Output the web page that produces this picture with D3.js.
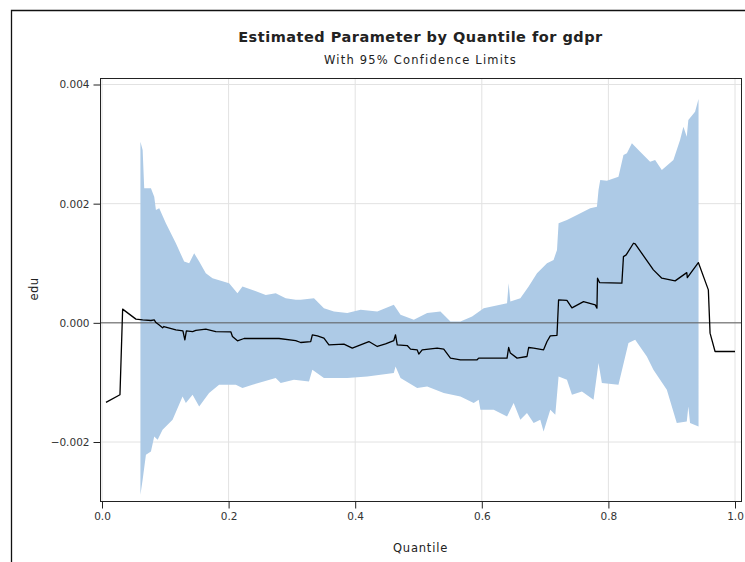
<!DOCTYPE html>
<html>
<head>
<meta charset="utf-8">
<script src="https://cdn.jsdelivr.net/npm/d3@7"></script>
<style>
  body { margin: 0; background: #fff; }
  text { font-family: "DejaVu Sans", sans-serif; fill: #222; }
  .axis path, .axis line { stroke: #222; }
  .axis text { font-size: 10.5px; fill: #333; }
</style>
</head>
<body>
<div id="plot"></div>
<script>
// estimate line: quantile and parameter
var lineQ = [0.0063,0.0284,0.0326,0.0536,0.0642,0.0773,0.0825,0.0852,0.0899,0.0957,0.0978,0.1167,0.1278,0.1309,0.1333,0.1431,0.1483,0.1640,0.1798,0.2035,
  0.2061,0.2140,0.2244,0.2797,0.3060,0.3139,0.3297,0.3323,0.3402,0.3506,0.3585,0.3822,0.3954,0.4216,0.4349,0.4479,0.4610,0.4637,0.4664,0.4822,
  0.4874,0.4979,0.5005,0.5058,0.5295,0.5399,0.5505,0.5662,0.5926,0.5951,0.6399,0.6424,0.6451,0.6557,0.6714,0.6740,0.6819,0.6976,0.7030,0.7082,
  0.7188,0.7213,0.7345,0.7424,0.7607,0.7792,0.7819,0.7828,0.7860,0.8213,0.8238,0.8281,0.8396,0.8423,0.8711,0.8844,0.9054,0.9238,0.9247,0.9421,
  0.9579,0.9606,0.9685,1.0];
var lineEst = [-0.001336,-0.001207,0.000230,0.000062,0.000050,0.000039,0.000050,0.000005,-0.000034,-0.000084,-0.000062,-0.000117,-0.000134,-0.000285,-0.000134,-0.000146,-0.000126,-0.000106,-0.000146,-0.000151,
  -0.000230,-0.000302,-0.000263,-0.000263,-0.000297,-0.000330,-0.000314,-0.000201,-0.000218,-0.000256,-0.000369,-0.000357,-0.000424,-0.000314,-0.000397,-0.000352,-0.000297,-0.000201,-0.000369,-0.000381,
  -0.000441,-0.000453,-0.000525,-0.000453,-0.000424,-0.000441,-0.000592,-0.000620,-0.000620,-0.000592,-0.000592,-0.000414,-0.000508,-0.000592,-0.000565,-0.000414,-0.000424,-0.000453,-0.000314,-0.000218,
  -0.000210,0.000386,0.000377,0.000251,0.000357,0.000302,0.000246,0.000749,0.000676,0.000666,0.001112,0.001140,0.001336,0.001324,0.000889,0.000749,0.000704,0.000843,0.000759,0.001011,
  0.000553,-0.000173,-0.000481,-0.000481];

// upper 95% limit
var upperQ = [0.0607,0.0642,0.0667,0.0773,0.0825,0.0852,0.0904,0.1009,0.1167,0.1298,0.1377,0.1456,0.1535,0.1640,0.1746,0.2008,0.2140,0.2219,0.2377,0.2587,
  0.2744,0.2902,0.3060,0.3139,0.3349,0.3506,0.3664,0.3875,0.4085,0.4349,0.4610,0.4716,0.4926,0.5137,0.5347,0.5505,0.5662,0.5847,0.6030,0.6399,
  0.6424,0.6451,0.6609,0.6740,0.6872,0.7030,0.7134,0.7188,0.7213,0.7345,0.7503,0.7713,0.7819,0.7844,0.7871,0.7976,0.8159,0.8238,0.8292,0.8371,
  0.8502,0.8659,0.8738,0.8844,0.9027,0.9132,0.9185,0.9238,0.9263,0.9369,0.9424];
var upperVal = [0.003039,0.002900,0.002258,0.002258,0.002117,0.001894,0.001923,0.001671,0.001336,0.001028,0.001001,0.001168,0.001028,0.000833,0.000749,0.000666,0.000498,0.000609,0.000553,0.000469,
  0.000498,0.000414,0.000386,0.000386,0.000414,0.000246,0.000189,0.000163,0.000218,0.000189,0.000302,0.000134,0.000050,0.000163,0.000189,0.000022,0.000022,0.000106,0.000246,0.000330,
  0.000666,0.000357,0.000414,0.000609,0.000833,0.001001,0.001056,0.001224,0.001671,0.001727,0.001811,0.001923,0.001950,0.002230,0.002397,0.002386,0.002453,0.002816,0.002845,0.003013,
  0.002872,0.002704,0.002733,0.002565,0.002733,0.003068,0.003291,0.003123,0.003403,0.003542,0.003755];

// lower 95% limit
var lowerQ = [0.0607,0.0642,0.0694,0.0773,0.0825,0.0879,0.0957,0.1115,0.1273,0.1325,0.1431,0.1535,0.1692,0.1850,0.2114,0.2219,0.2377,0.2744,0.2823,0.3033,
  0.3270,0.3323,0.3506,0.3875,0.4191,0.4610,0.4637,0.4716,0.4979,0.5137,0.5399,0.5662,0.5872,0.5951,0.5978,0.6188,0.6399,0.6503,0.6609,0.6714,
  0.6819,0.6924,0.6976,0.7082,0.7161,0.7213,0.7345,0.7424,0.7582,0.7765,0.7844,0.7897,0.8159,0.8317,0.8423,0.8607,0.8711,0.8923,0.9080,0.9238,
  0.9263,0.9290,0.9424];
var lowerVal = [-0.002884,-0.002632,-0.002213,-0.002158,-0.001906,-0.001961,-0.001794,-0.001626,-0.001236,-0.001346,-0.001207,-0.001403,-0.001179,-0.001039,-0.001039,-0.001095,-0.001039,-0.000927,-0.001011,-0.000956,
  -0.000984,-0.000788,-0.000927,-0.000927,-0.000900,-0.000843,-0.000733,-0.000927,-0.001095,-0.001068,-0.001179,-0.001236,-0.001346,-0.001291,-0.001459,-0.001459,-0.001571,-0.001346,-0.001626,-0.001514,
  -0.001681,-0.001626,-0.001822,-0.001459,-0.001542,-0.000900,-0.000956,-0.001207,-0.001152,-0.001291,-0.000676,-0.001011,-0.001039,-0.000340,-0.000285,-0.000565,-0.000788,-0.001123,-0.001681,-0.001655,
  -0.001403,-0.001681,-0.001738];

var xTicks = [0, 0.2, 0.4, 0.6, 0.8, 1.0];
var yTicks = [-0.002, 0, 0.002, 0.004];

var W = 745, H = 562;
var frame = {l: 100, r: 741, t: 78, b: 501};

var svg = d3.select('#plot').append('svg').attr('width', W).attr('height', H);

// outer border of the output window
svg.append('path').attr('d', 'M11.5,562 V10.5 H745').attr('fill', 'none').attr('stroke', '#111').attr('stroke-width', 1.3);

var x = d3.scaleLinear().domain([0, 1]).range([102, 735]);
var y = d3.scaleLinear().domain([-0.002, 0.004]).range([442, 84.5]);

// grid
svg.append('g').selectAll('line.gx').data(xTicks).enter().append('line')
  .attr('x1', function(d){ return x(d); }).attr('x2', function(d){ return x(d); })
  .attr('y1', frame.t).attr('y2', frame.b).attr('stroke', '#e2e2e2');
svg.append('g').selectAll('line.gy').data(yTicks).enter().append('line')
  .attr('x1', frame.l).attr('x2', frame.r)
  .attr('y1', function(d){ return y(d); }).attr('y2', function(d){ return y(d); }).attr('stroke', '#e2e2e2');

// confidence band: upper edge then lower edge backwards
var bandPts = upperQ.map(function(q, i){ return [q, upperVal[i]]; })
  .concat(lowerQ.map(function(q, i){ return [q, lowerVal[i]]; }).reverse());
var bandLine = d3.line().x(function(d){ return x(d[0]); }).y(function(d){ return y(d[1]); });
svg.append('path').datum(bandPts).attr('d', function(d){ return bandLine(d) + 'Z'; })
  .attr('fill', '#adcae6').attr('stroke', 'none');

// reference line at zero
svg.append('line').attr('x1', frame.l).attr('x2', frame.r).attr('y1', y(0)).attr('y2', y(0))
  .attr('stroke', '#5a5a5a').attr('stroke-width', 1);

// estimate
var estPts = lineQ.map(function(q, i){ return [q, lineEst[i]]; });
svg.append('path').datum(estPts).attr('d', bandLine)
  .attr('fill', 'none').attr('stroke', '#000').attr('stroke-width', 1.3).attr('stroke-linejoin', 'round');

// frame
svg.append('rect').attr('x', frame.l + 0.5).attr('y', frame.t + 0.5)
  .attr('width', frame.r - frame.l).attr('height', frame.b - frame.t)
  .attr('fill', 'none').attr('stroke', '#222');

// axes
var axisX = d3.axisBottom(x).tickValues(xTicks).tickSize(7).tickPadding(4).tickFormat(d3.format('.1f'));
var axisY = d3.axisLeft(y).tickValues(yTicks).tickSize(7).tickPadding(4).tickFormat(d3.format('.3f'));
svg.append('g').attr('class', 'axis').attr('transform', 'translate(0,' + (frame.b + 0.5) + ')').call(axisX)
  .select('.domain').remove();
svg.append('g').attr('class', 'axis').attr('transform', 'translate(' + (frame.l + 0.5) + ',0)').call(axisY)
  .select('.domain').remove();

// titles
svg.append('text').attr('x', 420.5).attr('y', 42).attr('text-anchor', 'middle')
  .style('font-size', '14.5px').style('font-weight', 'bold').style('letter-spacing', '0.5px')
  .text('Estimated Parameter by Quantile for gdpr');
svg.append('text').attr('x', 420.5).attr('y', 64).attr('text-anchor', 'middle')
  .style('font-size', '11.5px').style('letter-spacing', '1.2px').text('With 95% Confidence Limits');
svg.append('text').attr('x', 420.5).attr('y', 552).attr('text-anchor', 'middle')
  .style('font-size', '11.5px').style('letter-spacing', '0.8px').text('Quantile');
svg.append('text').attr('transform', 'translate(38,289) rotate(-90)').attr('text-anchor', 'middle')
  .style('font-size', '11.5px').style('letter-spacing', '0.5px').text('edu');
</script>
</body>
</html>
